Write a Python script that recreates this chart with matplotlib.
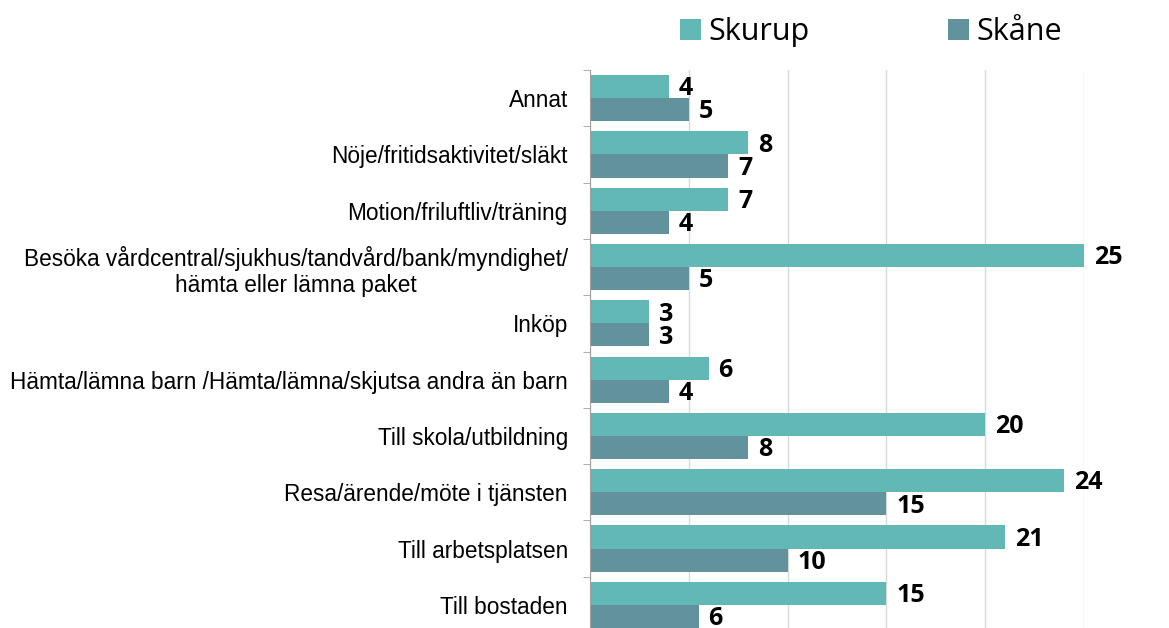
import numpy as np
import matplotlib.pyplot as plt
from matplotlib.ticker import FixedLocator

categories = ['Annat',
              'Nöje/fritidsaktivitet/släkt',
              'Motion/friluftliv/träning',
              'Besöka vårdcentral/sjukhus/tandvård/bank/myndighet/\nhämta eller lämna paket',
              'Inköp',
              'Hämta/lämna barn /Hämta/lämna/skjutsa andra än barn',
              'Till skola/utbildning',
              'Resa/ärende/möte i tjänsten',
              'Till arbetsplatsen',
              'Till bostaden']
skurup = [4, 8, 7, 25, 3, 6, 20, 24, 21, 15]
skane = [5, 7, 4, 5, 3, 4, 8, 15, 10, 5.5]
skurup_labels = ['4', '8', '7', '25', '3', '6', '20', '24', '21', '15']
skane_labels = ['5', '7', '4', '5', '3', '4', '8', '15', '10', '6']

c_skurup = '#62B8B5'
c_skane = '#62939C'

fig = plt.figure(figsize=(11.69, 6.28), dpi=100)
ax = fig.add_axes([590/1169, 1 - 633/628, (1084-590)/1169, 563/628])

y = np.arange(len(categories))
h = 0.41
b1 = ax.barh(y - h/2, skurup, height=h, color=c_skurup, label='Skurup', zorder=3)
b2 = ax.barh(y + h/2, skane, height=h, color=c_skane, label='Skåne', zorder=3)

for bars, labs in [(b1, skurup_labels), (b2, skane_labels)]:
    for bar, lab in zip(bars, labs):
        ax.text(bar.get_width() + 0.5, bar.get_y() + bar.get_height()/2 + 0.04, lab,
                va='center', ha='left', fontsize=18, fontweight='bold',
                family='Open Sans', clip_on=False)

ax.set_ylim(len(categories) - 0.5, -0.5)
ax.set_xlim(0, 25)
ax.set_yticks(y)
ax.set_yticklabels(categories, fontsize=16.3, family='Liberation Sans',
                   multialignment='center')
ax.yaxis.set_minor_locator(FixedLocator(np.arange(-0.5, len(categories), 1)))
ax.tick_params(axis='y', which='major', length=0, pad=16)
ax.tick_params(axis='y', which='minor', length=5, color='#A0A0A0')
ax.set_xticks([0, 5, 10, 15, 20, 25])
ax.tick_params(axis='x', length=0, labelbottom=False)
ax.grid(axis='x', color='#D9D9D9', linewidth=1, zorder=0)
for s in ['top', 'right', 'bottom']:
    ax.spines[s].set_visible(False)
ax.spines['left'].set_color('#A0A0A0')
ax.spines['left'].set_zorder(4)

fig.legend(handles=[b1, b2], loc='center', bbox_to_anchor=(871/1169, 1 - 32/628),
           ncol=2, frameon=False, prop={'family': 'Open Sans', 'size': 22},
           handlelength=0.7, handleheight=0.7, columnspacing=4.5, handletextpad=0.25)

fig.savefig('out.png', dpi=100)
